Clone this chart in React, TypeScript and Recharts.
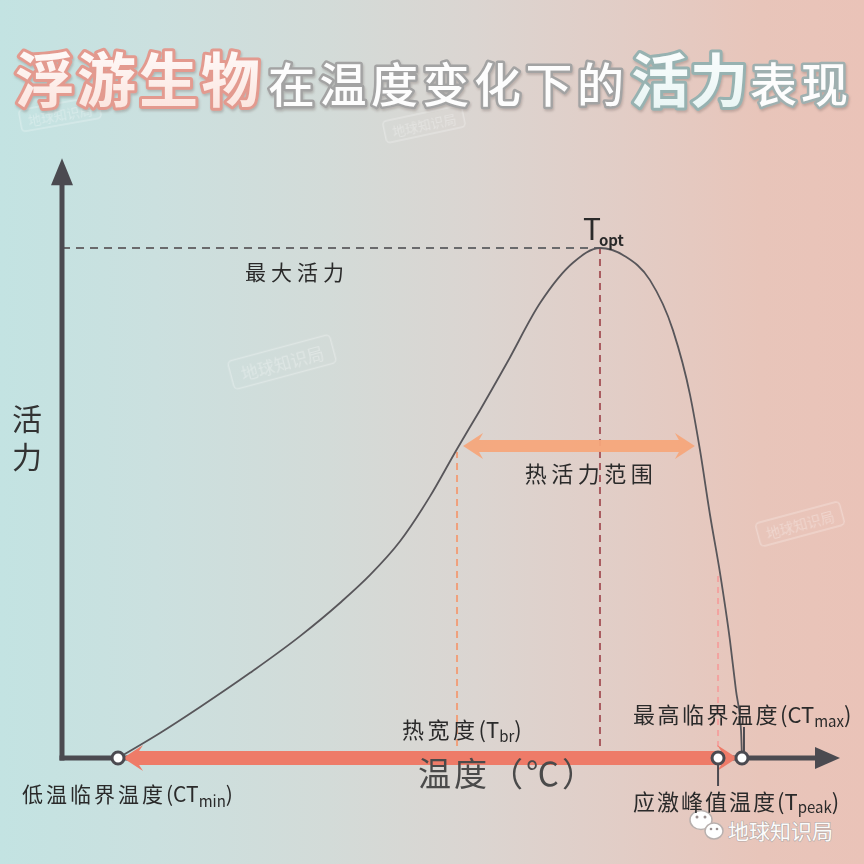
import React from 'react';
import { ComposedChart, Line, XAxis, YAxis, ReferenceLine, ReferenceDot } from 'recharts';

const FONT = '"Noto Sans CJK SC", "Noto Sans", sans-serif';

// Thermal performance curve: temperature (relative °C scale) vs activity (% of max)
const temperature = [2.88, 5.04, 7.1, 9.67, 12.24, 14.29, 15.84, 17.38, 18.92, 20.31, 21.49, 22.88, 24.58, 26.27, 27.66, 28.94, 30.23, 31.41, 32.29, 32.8, 33.32, 33.83, 34.34, 34.65, 34.91, 34.96];
const activity = [0, 4.9, 10.0, 16.7, 23.9, 30.4, 35.9, 42.5, 51.3, 60.6, 68.2, 77.5, 89.2, 97.1, 100, 98.4, 93.7, 83.9, 71.2, 60.4, 47.6, 36.3, 23.1, 13.3, 5.5, 0];

// key temperatures
const CT_MIN = 2.88;
const T_BR_LOW = 20.31;
const T_OPT = 27.66;
const T_PEAK = 33.73;
const CT_MAX = 34.96;
const MAX_ACTIVITY = 100;
const T_BR_LOW_LEVEL = 60;
const T_PEAK_LEVEL = 36.3;

// arrows
const rangeArrow = [20.62, 32.54];
const RANGE_LEVEL = 61.2;
const breadthArrow = [3.14, 34.71];

// axes
const X_DOMAIN = [0, 40];
const Y_DOMAIN = [0, 120];
const Y_TIP = 117.6;

// texts
const titleParts = ['浮游生物', '在温度变化下的', '活力', '表现'];
const yLabel = '活力';
const xLabel = '温度（℃）';
const maxLabel = '最大活力';
const rangeLabel = '热活力范围';
const brLabel = ['热宽度', '(T', 'br', ')'];
const ctMinLabel = ['低温临界温度', '(CT', 'min', ')'];
const ctMaxLabel = ['最高临界温度', '(CT', 'max', ')'];
const tPeakLabel = ['应激峰值温度', '(T', 'peak', ')'];
const tOptLabel = ['T', 'opt'];
const watermark = '地球知识局';

const curveData = temperature.map((t, i) => ({ t, a: activity[i] }));

const AXIS = '#4b4a50';
const TXT = '#2a2a2a';

function yAxisShape(p: any) {
  const x = p.x1;
  const top = Math.min(p.y1, p.y2);
  const bottom = Math.max(p.y1, p.y2);
  const hl = 27, hh = 11;
  return (
    <g>
      <line x1={x} y1={bottom} x2={x} y2={top + hl - 6} stroke={AXIS} strokeWidth={5} strokeLinecap="square" />
      <polygon points={`${x},${top} ${x - hh},${top + hl} ${x + hh},${top + hl}`} fill={AXIS} />
    </g>
  );
}

function xAxisShape(p: any) {
  const y = p.y1;
  const left = Math.min(p.x1, p.x2);
  const right = Math.max(p.x1, p.x2);
  const hl = 25, hh = 11;
  return (
    <g>
      <line x1={left} y1={y} x2={right - hl + 6} y2={y} stroke={AXIS} strokeWidth={5} strokeLinecap="square" />
      <polygon points={`${right},${y} ${right - hl},${y - hh} ${right - hl},${y + hh}`} fill={AXIS} />
    </g>
  );
}

function doubleArrow(fill: string, shaft: number, hh: number, hl: number, opacity = 1) {
  return (p: any) => {
    const y = p.y1;
    const l = Math.min(p.x1, p.x2);
    const r = Math.max(p.x1, p.x2);
    const s = shaft / 2;
    const pts = [
      [l, y], [l + hl + 3, y - hh], [l + hl - 1, y - s], [r - hl + 1, y - s], [r - hl - 3, y - hh],
      [r, y], [r - hl - 3, y + hh], [r - hl + 1, y + s], [l + hl - 1, y + s], [l + hl + 3, y + hh],
    ].map((q) => q.join(',')).join(' ');
    return <polygon points={pts} fill={fill} fillOpacity={opacity} />;
  };
}

const labelDot = (key: string, x: number, y: number, render: (cx: number, cy: number) => React.ReactElement) => (
  <ReferenceDot key={key} x={x} y={y} r={1} ifOverflow="visible" shape={(p: any) => render(p.cx, p.cy)} />
);

const circleDot = (key: string, x: number) => (
  <ReferenceDot key={key} x={x} y={0} r={6} fill="#ffffff" stroke={AXIS} strokeWidth={3} ifOverflow="visible" />
);

function subText(parts: string[], x: number, y: number, size: number, sub: number, spacing: number, subDy: number) {
  return (
    <text x={x} y={y} fontFamily={FONT} fontSize={size} fill={TXT} dominantBaseline="central">
      <tspan letterSpacing={spacing}>{parts[0]}</tspan>
      <tspan>{parts[1]}</tspan>
      <tspan fontSize={sub} dy={subDy}>{parts[2]}</tspan>
      <tspan dy={-subDy}>{parts[3]}</tspan>
    </text>
  );
}

function Watermarks() {
  const marks = [
    { x: 60, y: 114, r: -10, s: 13 },
    { x: 424, y: 124, r: -12, s: 13 },
    { x: 282, y: 362, r: -15, s: 17 },
    { x: 800, y: 524, r: -15, s: 14 },
  ];
  return (
    <g opacity={0.3}>
      {marks.map((m, i) => (
        <g key={i} transform={`translate(${m.x},${m.y}) rotate(${m.r})`}>
          <rect x={-m.s * 3.1} y={-m.s * 0.85} width={m.s * 6.2} height={m.s * 1.7} rx={4} fill="none" stroke="#ffffff" strokeWidth={1.5} />
          <text x={0} y={0} textAnchor="middle" dominantBaseline="central" fontFamily={FONT} fontSize={m.s} fill="#ffffff">{watermark}</text>
        </g>
      ))}
    </g>
  );
}

function Title() {
  const base = 102;
  return (
    <g fontFamily={FONT}>
      <defs>
        <linearGradient id="pinkFill" x1="0" y1="0" x2="0" y2="1">
          <stop offset="0%" stopColor="#ffffff" />
          <stop offset="100%" stopColor="#fbe1da" />
        </linearGradient>
        <linearGradient id="tealFill" x1="0" y1="0" x2="0" y2="1">
          <stop offset="0%" stopColor="#ffffff" />
          <stop offset="100%" stopColor="#e6f4f3" />
        </linearGradient>
        <filter id="soft" x="-5%" y="-20%" width="110%" height="140%">
          <feDropShadow dx="1" dy="2" stdDeviation="1.2" floodColor="#7a6a68" floodOpacity="0.35" />
        </filter>
      </defs>
      <g filter="url(#soft)">
        <text x={15} y={base} fontSize={59} fontWeight={700} letterSpacing={3} fill="url(#pinkFill)" stroke="#e39a8f" strokeWidth={6} strokeLinejoin="round" paintOrder="stroke">{titleParts[0]}</text>
        <text x={268} y={base} fontSize={47} fontWeight={500} letterSpacing={4.5} fill="#fdfdfd" stroke="#a3a3a3" strokeWidth={5} strokeLinejoin="round" paintOrder="stroke">{titleParts[1]}</text>
        <text x={631} y={base} fontSize={58} fontWeight={700} letterSpacing={1} fill="url(#tealFill)" stroke="#97b2b1" strokeWidth={6} strokeLinejoin="round" paintOrder="stroke">{titleParts[2]}</text>
        <text x={750} y={base} fontSize={47} fontWeight={500} letterSpacing={4} fill="#fdfdfd" stroke="#9fb0b0" strokeWidth={5} strokeLinejoin="round" paintOrder="stroke">{titleParts[3]}</text>
      </g>
    </g>
  );
}

function BrandMark() {
  return (
    <g>
      <ellipse cx={701} cy={820} rx={11} ry={9.5} fill="#ffffff" stroke="#b8b0ae" strokeWidth={1.5} />
      <ellipse cx={714} cy={831} rx={9} ry={8} fill="#ffffff" stroke="#b8b0ae" strokeWidth={1.5} />
      <circle cx={697} cy={817} r={1.5} fill="#9a9090" />
      <circle cx={705} cy={817} r={1.5} fill="#9a9090" />
      <circle cx={711} cy={829} r={1.3} fill="#9a9090" />
      <circle cx={717} cy={829} r={1.3} fill="#9a9090" />
      <text x={728} y={830} fontFamily={FONT} fontSize={21} fill="#fbfbfb" stroke="#b5a9a6" strokeWidth={1.2} paintOrder="stroke" dominantBaseline="central">{watermark}</text>
    </g>
  );
}

export default function App() {
  return (
    <div
      style={{
        position: 'absolute', left: 0, top: 0, width: 864, height: 864, overflow: 'hidden',
        background: 'linear-gradient(90deg, #c3e3e2 0%, #cbe0df 18%, #d3dbd8 38%, #dbd5d1 55%, #e2cdc6 72%, #e8c5ba 88%, #eac3b8 100%)',
      }}
    >
      <svg width={864} height={864} style={{ position: 'absolute', left: 0, top: 0 }}>
        <Watermarks />
        <Title />
        <BrandMark />
      </svg>
      <div style={{ position: 'absolute', left: 0, top: 0 }}>
        <ComposedChart width={864} height={864} data={curveData} margin={{ top: 146, right: 24, bottom: 106, left: 62 }}>
          <XAxis type="number" dataKey="t" domain={X_DOMAIN} hide />
          <YAxis type="number" domain={Y_DOMAIN} hide />

          <ReferenceLine segment={[{ x: 0, y: MAX_ACTIVITY }, { x: T_OPT, y: MAX_ACTIVITY }]} stroke="#6a6a6c" strokeWidth={2} strokeDasharray="8 6" ifOverflow="visible" />
          <ReferenceLine segment={[{ x: T_OPT, y: 0 }, { x: T_OPT, y: MAX_ACTIVITY }]} stroke="#a95c60" strokeWidth={2} strokeDasharray="7 5" ifOverflow="visible" />
          <ReferenceLine segment={[{ x: T_BR_LOW, y: 0 }, { x: T_BR_LOW, y: T_BR_LOW_LEVEL }]} stroke="#f0a07c" strokeWidth={2} strokeDasharray="7 5" ifOverflow="visible" />
          <ReferenceLine segment={[{ x: T_PEAK, y: 0 }, { x: T_PEAK, y: T_PEAK_LEVEL }]} stroke="#f3a3a0" strokeWidth={2} strokeDasharray="6 5" ifOverflow="visible" />

          <Line dataKey="a" type="monotone" stroke="#58565a" strokeWidth={1.8} dot={false} activeDot={false} isAnimationActive={false} />

          <ReferenceLine segment={[{ x: 0, y: 0 }, { x: 0, y: Y_TIP }]} shape={yAxisShape} ifOverflow="visible" />
          <ReferenceLine segment={[{ x: 0, y: 0 }, { x: X_DOMAIN[1], y: 0 }]} shape={xAxisShape} ifOverflow="visible" />

          <ReferenceLine segment={[{ x: breadthArrow[0], y: 0 }, { x: breadthArrow[1], y: 0 }]} shape={doubleArrow('#ee7b68', 14, 13, 17)} ifOverflow="visible" />
          <ReferenceLine segment={[{ x: rangeArrow[0], y: RANGE_LEVEL }, { x: rangeArrow[1], y: RANGE_LEVEL }]} shape={doubleArrow('#f6a67b', 12, 13, 17, 0.95)} ifOverflow="visible" />

          {labelDot('ctmaxTick', CT_MAX, 0, (cx, cy) => (
            <line x1={cx + 2} y1={cy - 31} x2={cx + 2} y2={cy - 7} stroke={AXIS} strokeWidth={2} />
          ))}
          {labelDot('tpeakTick', T_PEAK, 0, (cx, cy) => (
            <line x1={cx} y1={cy + 7} x2={cx} y2={cy + 28} stroke={AXIS} strokeWidth={2} />
          ))}

          {circleDot('ctmin', CT_MIN)}
          {circleDot('tpeak', T_PEAK)}
          {circleDot('ctmax', CT_MAX)}

          {labelDot('maxLabel', 0, MAX_ACTIVITY, (cx, cy) => (
            <text x={cx + 183} y={cy + 23} fontFamily={FONT} fontSize={21} letterSpacing={5} fill={TXT} dominantBaseline="central">{maxLabel}</text>
          ))}
          {labelDot('toptLabel', T_OPT, MAX_ACTIVITY, (cx, cy) => (
            <text x={cx - 17} y={cy - 21} fontFamily={FONT} fontSize={30} fill={TXT} dominantBaseline="central">
              {tOptLabel[0]}
              <tspan fontSize={15} fontWeight={600} dx={-2} dy={12}>{tOptLabel[1]}</tspan>
            </text>
          ))}
          {labelDot('rangeLabel', (rangeArrow[0] + rangeArrow[1]) / 2, RANGE_LEVEL, (cx, cy) => (
            <text x={cx + 12} y={cy + 26} textAnchor="middle" fontFamily={FONT} fontSize={22} letterSpacing={4.5} fill={TXT} dominantBaseline="central">{rangeLabel}</text>
          ))}
          {labelDot('brLabel', T_BR_LOW, 0, (cx, cy) => subText(brLabel, cx - 55, cy - 30, 22, 15, 3.5, 7))}
          {labelDot('ctminLabel', CT_MIN, 0, (cx, cy) => subText(ctMinLabel, cx - 96, cy + 35, 21, 15, 3, 7))}
          {labelDot('ctmaxLabel', CT_MAX, 0, (cx, cy) => subText(ctMaxLabel, cx - 109, cy - 45, 22, 15, 2.5, 7))}
          {labelDot('tpeakLabel', T_PEAK, 0, (cx, cy) => subText(tPeakLabel, cx - 85, cy + 42, 22, 15, 2, 6))}
          {labelDot('xLabel', X_DOMAIN[1] / 2, 0, (cx, cy) => (
            <text x={cx - 33} y={cy + 14} fontFamily={FONT} fontSize={33} letterSpacing={3} fill="#4a4a4a" dominantBaseline="central">{xLabel}</text>
          ))}
          {labelDot('yLabel', 0, 60, (cx, cy) => (
            <text x={cx - 35} y={cy - 48} fontFamily={FONT} fontSize={30} letterSpacing={8} fill="#333333" style={{ writingMode: 'vertical-rl' }}>{yLabel}</text>
          ))}
        </ComposedChart>
      </div>
    </div>
  );
}
